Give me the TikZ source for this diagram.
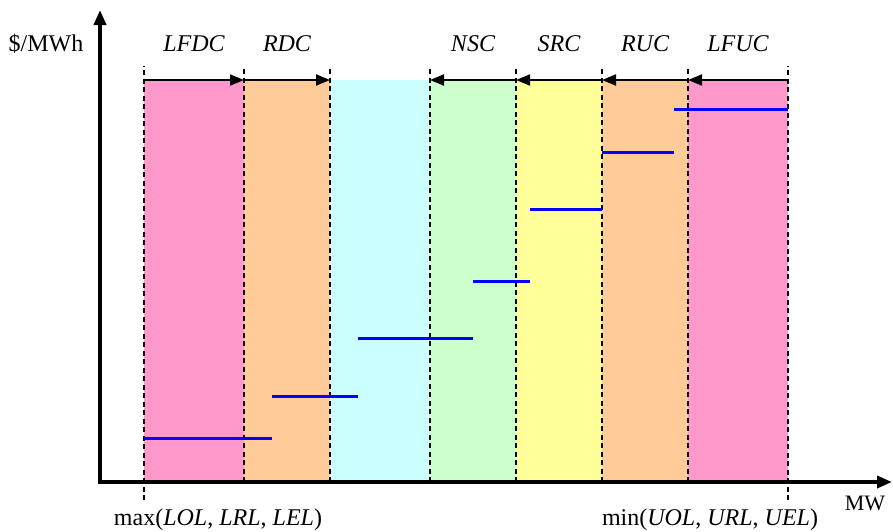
\documentclass[tikz,border=0pt]{standalone}
\usepackage{fontspec}
\setmainfont{Liberation Serif}
\usetikzlibrary{arrows.meta}
\definecolor{cpink}{HTML}{FF99CC}
\definecolor{corange}{HTML}{FFCC99}
\definecolor{ccyan}{HTML}{CCFFFF}
\definecolor{cgreen}{HTML}{CCFFCC}
\definecolor{cyellow}{HTML}{FFFF99}
\begin{document}
\begin{tikzpicture}[x=1pt,y=-1pt,
  guide/.style={line width=1.3pt,dash pattern=on 5pt off 3.5pt},
  axis/.style={line width=3.6pt,-{Triangle[length=15pt,width=12pt]}},
  span/.style={line width=2pt,-{Triangle[length=14pt,width=11pt]}},
  offer/.style={line width=3pt,color=blue},
  lab/.style={font=\fontsize{24}{26}\selectfont\itshape,inner sep=0pt},
  txt/.style={font=\fontsize{24}{26}\selectfont,inner sep=0pt}]
\useasboundingbox (0,0) rectangle (893,531);
% bands
\fill[cpink]   (144,80) rectangle (244,482);
\fill[corange] (244,80) rectangle (330,482);
\fill[ccyan]   (330,80) rectangle (430,482);
\fill[cgreen]  (430,80) rectangle (516,482);
\fill[cyellow] (516,80) rectangle (602,482);
\fill[corange] (602,80) rectangle (688,482);
\fill[cpink]   (688,80) rectangle (788,482);
% boundary coordinates
\foreach \n/\x in {a/144,b/244,c/330,d/430,e/516,f/602,g/688,h/788}{
  \coordinate (top-\n) at (\x,66);
  \coordinate (mid-\n) at (\x,80);
  \coordinate (bot-\n) at (\x,482);
}
\coordinate (low-a) at (144,500);
\coordinate (low-h) at (788,500);
% dashed guides
\draw[guide] (low-a) -- (top-a);
\draw[guide] (low-h) -- (top-h);
\foreach \n in {b,c,d,e,f,g}{\draw[guide] (bot-\n) -- (top-\n);}
% span arrows
\draw[span] (mid-a) -- (mid-b);
\draw[span] (mid-b) -- (mid-c);
\draw[span] (mid-e) -- (mid-d);
\draw[span] (mid-f) -- (mid-e);
\draw[span] (mid-g) -- (mid-f);
\draw[span] (mid-h) -- (mid-g);
% offer steps
\coordinate (s0) at (144,438); \coordinate (e0) at (272,438);
\coordinate (s1) at (272,396); \coordinate (e1) at (358,396);
\coordinate (s2) at (358,338); \coordinate (e2) at (473,338);
\coordinate (s3) at (473,281); \coordinate (e3) at (530,281);
\coordinate (s4) at (530,209); \coordinate (e4) at (602,209);
\coordinate (s5) at (602,152); \coordinate (e5) at (674,152);
\coordinate (s6) at (674,109); \coordinate (e6) at (788,109);
\foreach \i in {0,...,6}{\draw[offer] (s\i) -- (e\i);}
% axes
\coordinate (ybase) at (100,483.8);
\coordinate (xbase) at (98.2,482);
\coordinate (ytip) at (100,10);
\coordinate (xtip) at (892,482);
\draw[axis] (ybase) -- (ytip);
\draw[axis] (xbase) -- (xtip);
% labels
\node[lab] (lfdc) at (194,44) {LFDC};
\node[lab] (rdc) at (287,44) {RDC};
\node[lab] (nsc) at (473,44) {NSC};
\node[lab] (src) at (559,44) {SRC};
\node[lab] (ruc) at (645,44) {RUC};
\node[lab] (lfuc) at (738,44) {LFUC};
\node[txt] (ylab) at (46,44) {\$/MWh};
\node[txt,font=\fontsize{22}{24}\selectfont] (xlab) at (865,503) {MW};
\node[txt] (lo) at (218,520) {max(\textit{LOL}, \textit{LRL}, \textit{LEL})};
\node[txt] (hi) at (710,520) {min(\textit{UOL}, \textit{URL}, \textit{UEL})};
\end{tikzpicture}
\end{document}
